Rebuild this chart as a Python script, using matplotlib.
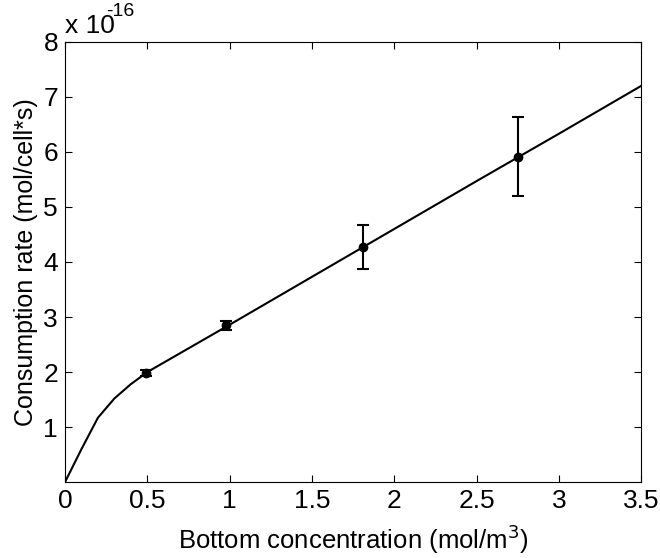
import numpy as np
import matplotlib.pyplot as plt

plt.rcParams['font.family'] = ['Liberation Sans', 'DejaVu Sans']

# model curve (units of 1e-16 mol/cell*s)
conc_curve = [0, 0.1, 0.2, 0.3, 0.4, 0.5, 1.0, 1.5, 2.0, 2.5, 3.0, 3.5]
rate_curve = [0, 0.6, 1.17, 1.52, 1.78, 2.0, 2.86, 3.73, 4.6, 5.47, 6.33, 7.2]

# measured points
conc_meas = [0.49, 0.98, 1.81, 2.75]
rate_meas = [1.98, 2.85, 4.28, 5.91]
rate_err = [0.06, 0.08, 0.40, 0.72]

fig = plt.figure(figsize=(6.6, 5.58), dpi=100)
ax = fig.add_axes([0.0985, 0.136, 0.873, 0.789])

ax.plot(conc_curve, rate_curve, color='black', lw=1.5)
ax.errorbar(conc_meas, rate_meas, yerr=rate_err, fmt='o', color='black',
            ms=6, elinewidth=1.5, capsize=4, capthick=1.5)

ax.set_xlim(0, 3.5)
ax.set_ylim(0, 8)
ax.set_xticks(np.arange(0, 3.51, 0.5))
ax.set_xticklabels(['0', '0.5', '1', '1.5', '2', '2.5', '3', '3.5'])
ax.set_yticks(range(1, 9))
ax.tick_params(direction='in', top=True, right=True, labelsize=19, length=5, pad=5)
for s in ax.spines.values():
    s.set_linewidth(0.8)

ax.set_xlabel('Bottom concentration (mol/m$^3$)', fontsize=18.5, labelpad=7)
ax.set_ylabel('Consumption rate (mol/cell*s)', fontsize=18, labelpad=4)
ax.text(0.0, 1.008, 'x 10', transform=ax.transAxes, fontsize=19,
        ha='left', va='bottom')
ax.text(0.072, 1.05, '-16', transform=ax.transAxes, fontsize=14,
        ha='left', va='bottom')

fig.savefig('out.png', dpi=100)
